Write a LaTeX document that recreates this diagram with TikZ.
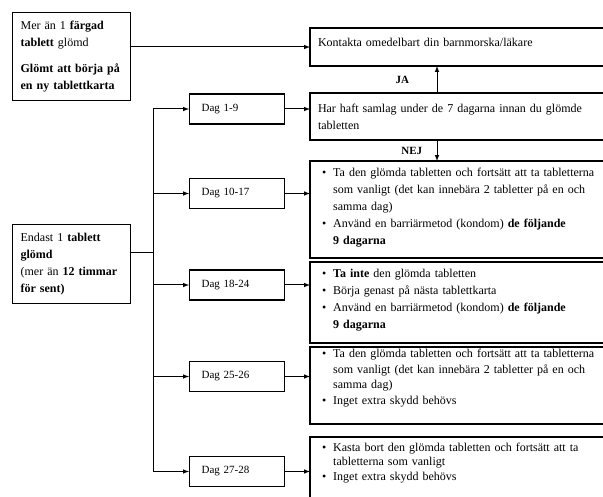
\documentclass[tikz,border=0pt]{standalone}
\usepackage{fontspec}
\setmainfont{Liberation Serif}
\usepackage{tikz}
\usetikzlibrary{arrows, positioning}

\begin{document}
\begin{tikzpicture}[x=1pt, y=-1pt, >=latex, line width=1pt,
leftnode/.style={rectangle, draw=black, line width=1.2pt, anchor=north west, text width=102pt, inner xsep=8pt, align=left, font=\fontsize{12}{17}\selectfont},
daynode/.style={rectangle, draw=black, line width=1.2pt, anchor=west, minimum height=30pt, text width=71pt, inner xsep=12pt, align=left, font=\fontsize{11}{17}\selectfont},
infonode/.style={rectangle, draw=black, line width=1.2pt, outer sep=0pt, text width=292pt, inner xsep=8pt, inner ysep=0pt, align=left, font=\fontsize{12}{17}\selectfont},
]
\useasboundingbox (0,0) rectangle (603,497);
%Nodes
\node[leftnode, minimum height=88pt] (MORE) at (12,12) {\begin{tabular}{@{}l@{}}Mer än 1 \textbf{färgad}\\ \textbf{tablett} glömd\\[9pt] \textbf{Glömt att börja på}\\ \textbf{en ny tablettkarta}\end{tabular}};
\node[leftnode, minimum height=79pt] (ONE) at (12,224) {\begin{tabular}{@{}l@{}}Endast 1 \textbf{tablett}\\ \textbf{glömd}\\ (mer än \textbf{12 timmar}\\ \textbf{för sent)}\end{tabular}};
\coordinate (J) at (153,253);
\coordinate (V) at (437,0);

\node[infonode, anchor=north west, text height=19pt, text depth=19pt] (CALL) at (310,28) {\begin{tabular}[t]{@{}l@{}}Kontakta omedelbart din barnmorska/läkare\end{tabular}};
\node[infonode, text height=20pt, text depth=27pt] (SEX) [below=27pt of CALL] {\begin{tabular}[t]{@{}l@{}}Har haft samlag under de 7 dagarna innan du glömde\\ tabletten\end{tabular}};
\node[infonode, text height=16pt, text depth=81pt] (W2) [below=21pt of SEX] {\begin{tabular}[t]{@{\hspace{4pt}}l@{\hspace{7pt}}l@{}}
\textbullet & Ta den glömda tabletten och fortsätt att ta tabletterna\\
 & som vanligt (det kan innebära 2 tabletter på en och\\
 & samma dag)\\
\textbullet & Använd en barriärmetod (kondom) \textbf{de följande}\\
 & \textbf{9 dagarna}\end{tabular}};
\node[infonode, text height=16pt, text depth=65pt] (W3) [below=4pt of W2] {\begin{tabular}[t]{@{\hspace{4pt}}l@{\hspace{7pt}}l@{}}
\textbullet & \textbf{Ta inte} den glömda tabletten\\
\textbullet & Börja genast på nästa tablettkarta\\
\textbullet & Använd en barriärmetod (kondom) \textbf{de följande}\\
 & \textbf{9 dagarna}\end{tabular}};
\node[infonode, text height=11pt, text depth=66pt, font=\fontsize{12}{15.5}\selectfont] (W4a) [below=4pt of W3] {\begin{tabular}[t]{@{\hspace{4pt}}l@{\hspace{7pt}}l@{}}
\textbullet & Ta den glömda tabletten och fortsätt att ta tabletterna\\
 & som vanligt (det kan innebära 2 tabletter på en och\\
 & samma dag)\\
\textbullet & Inget extra skydd behövs\end{tabular}};
\node[infonode, text height=14pt, text depth=59pt, font=\fontsize{12}{14.5}\selectfont] (W4b) [below=13pt of W4a] {\begin{tabular}[t]{@{\hspace{4pt}}l@{\hspace{7pt}}l@{}}
\textbullet & Kasta bort den glömda tabletten och fortsätt att ta\\
 & tabletterna som vanligt\\
\textbullet & Inget extra skydd behövs\end{tabular}};

\node[daynode] (D1) at (189,109) {Dag 1-9};
\node[daynode] (D2) at (189,193.5) {Dag 10-17};
\node[daynode] (D3) at (189,285) {Dag 18-24};
\node[daynode] (D4) at (189,376.5) {Dag 25-26};
\node[daynode] (D5) at (189,471.5) {Dag 27-28};

%Connectors
\draw[->] (CALL.west -| MORE.east) -- (CALL.west);
\draw (ONE.east |- J) -- (J);
\draw (J |- D1) -- (J |- D5);
\path[every node/.style={font=\fontsize{11}{13}\selectfont\bfseries}]
	(J |- D1) edge [->] (D1)
	(J |- D2) edge [->] (D2)
	(J |- D3) edge [->] (D3)
	(J |- D4) edge [->] (D4)
	(J |- D5) edge [->] (D5)
	(D1.east) edge [->] (D1.east -| SEX.west)
	(D2.east) edge [->] (D2.east -| W2.west)
	(D3.east) edge [->] (D3.east -| W3.west)
	(D4.east) edge [->] (D4.east -| W4a.west)
	(D5.east) edge [->] (D5.east -| W4b.west)
	(V |- SEX.north) edge [->] node [midway, left=24pt] {JA} (V |- CALL.south)
	(V |- SEX.south) edge [->] node [midway, left=11pt] {NEJ} (V |- W2.north);

\end{tikzpicture}
\end{document}
